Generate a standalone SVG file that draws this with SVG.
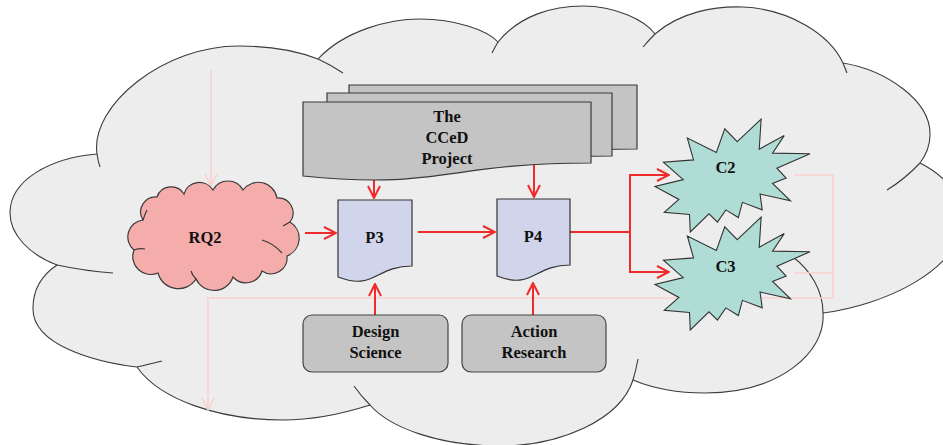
<svg xmlns="http://www.w3.org/2000/svg" xmlns:xlink="http://www.w3.org/1999/xlink" width="943" height="445" viewBox="0 0 943 445">
  <style>
    .lbl { font-family: "Liberation Serif", "Times New Roman", serif; font-weight: bold; font-size: 16.5px; fill: #111; text-anchor: middle; }
    .edge { stroke: #444; stroke-width: 1.1; }
    .bgcloud { fill: #ecedec; stroke: #3c3c3c; stroke-width: 1.1; }
    .tail { fill: none; stroke: #3c3c3c; stroke-width: 1.1; }
    .rq { fill: #f5adab; stroke: #3a3a3a; stroke-width: 1.2; }
    .rqtail { fill: none; stroke: #3a3a3a; stroke-width: 1.2; }
    .doc { fill: #c3c4c3; stroke: #3a3a3a; stroke-width: 1.2; }
    .page { fill: #d1d5eb; stroke: #333; stroke-width: 1.2; }
    .box { fill: #c3c4c3; stroke: #444; stroke-width: 1.2; }
    .seal { fill: #afddd5; stroke: #333; stroke-width: 1.1; }
    .red { fill: none; stroke: #ef2b2b; stroke-width: 2; }
    .pink { fill: none; stroke: #fbd0d0; stroke-width: 1.6; }
  </style>
  <defs>
    <marker id="arrRed" markerUnits="userSpaceOnUse" markerWidth="14" markerHeight="14" viewBox="0 0 14 14" refX="13" refY="7" orient="auto">
      <path d="M1,1 L13,7 L1,13" fill="none" stroke="#ef2b2b" stroke-width="2"/>
    </marker>
    <marker id="arrPink" markerUnits="userSpaceOnUse" markerWidth="14" markerHeight="14" viewBox="0 0 14 14" refX="13" refY="7" orient="auto">
      <path d="M1,1 L13,7 L1,13" fill="none" stroke="#fbd0d0" stroke-width="1.6"/>
    </marker>
    <!-- explosion outline, 155 x 113 -->
    <path id="seal" d="M82.25,22.72 L106.13,0 L104.23,30.22 L129.22,16.59 L117.54,34.17 L155,34.76 L121.88,49.19 L131.1,59.06 L117.54,64.4 L135.46,81.78 L105.05,75.07 L107.22,90.87 L87.4,83.36 L83.33,98.57 L70.84,90.87 L62.43,103.12 L54.01,94.82 L35.28,113 L34.48,95.42 L9.22,93.25 L23.9,80.41 L0,67.37 L28.24,60.64 L8.41,43.26 L38.55,40.89 L32.3,18.96 L61.35,33.39 L69.76,9.87 Z"/>
  </defs>

  <rect width="943" height="445" fill="#ffffff"/>

  <!-- large background cloud -->
  <g id="background-cloud">
    <path class="bgcloud" d="M97,154 C90,105 165,45 240,46 C272,46 300,52 318,59 C345,30 390,19 420,19 C455,19 487,30 498,42 C520,15 553,6 583,6 C615,6 645,20 655,34 C680,12 715,6 743,7 C790,9 830,35 843,63 C885,70 931,100 930,135 C930,146 926,155 920,163 C950,178 962,200 960,225 C958,270 885,305 823,313 C826,352 780,393 705,393 C678,393 652,388 633,380 C620,420 560,446 500,446 C440,446 390,428 370,405 C345,413 315,420 283,420 C220,420 160,400 137,367 C95,362 32,345 33,308 C33,290 42,275 57,265 C30,255 10,235 10,213 C10,180 50,158 97,154 Z"/>
    <path class="tail" d="M97,154 Q98,161 100,167"/>
    <path class="tail" d="M318,59 Q331,65 343,73"/>
    <path class="tail" d="M498,42 Q495,47 492,53"/>
    <path class="tail" d="M655,34 Q649,40 643,47"/>
    <path class="tail" d="M843,63 Q845,68 847,73"/>
    <path class="tail" d="M920,163 Q905,179 887,190"/>
    <path class="tail" d="M823,313 C823,290 810,270 793,257"/>
    <path class="tail" d="M633,380 Q636,370 638,359"/>
    <path class="tail" d="M370,405 Q361,396 354,386"/>
    <path class="tail" d="M137,367 Q150,364 162,361"/>
    <path class="tail" d="M57,265 Q85,271 113,273"/>
  </g>

  <!-- connectors -->
  <g id="connectors">
    <path class="pink" d="M211,70 V186" marker-end="url(#arrPink)"/>
    <path class="pink" d="M794,175 H833 V298 H208 V410" marker-end="url(#arrPink)"/>
    <path class="pink" d="M794,273 H833"/>
    <path class="red" d="M305,233 H336" marker-end="url(#arrRed)"/>
    <path class="red" d="M418,232 H495" marker-end="url(#arrRed)"/>
    <path class="red" d="M374,177 V198" marker-end="url(#arrRed)"/>
    <path class="red" d="M534,164 V197" marker-end="url(#arrRed)"/>
    <path class="red" d="M375,315 V284" marker-end="url(#arrRed)"/>
    <path class="red" d="M533,315 V283" marker-end="url(#arrRed)"/>
    <path class="red" d="M570,232 H630 V175 H669" marker-end="url(#arrRed)"/>
    <path class="red" d="M630,232 V272 H669" marker-end="url(#arrRed)"/>
  </g>

  <!-- research question cloud -->
  <g id="rq2">
    <path class="rq" d="M143,220 A15,15 0 0 1 157,197 A15,15 0 0 1 184,194 A16,16 0 0 1 213,190 A17,17 0 0 1 243,190 A19,19 0 0 1 277,198 A15,15 0 0 1 290,222 A19,19 0 0 1 287,256 A16,16 0 0 1 262,271 A17,17 0 0 1 233,277 A20,20 0 0 1 196,279 A21,21 0 0 1 158,273 A18,18 0 0 1 134,250 A17,17 0 0 1 143,220 Z"/>
    <path class="rqtail" d="M134,250 Q140,248 145,249"/>
    <path class="rqtail" d="M196,279 Q192,275 191,271"/>
    <path class="rqtail" d="M282,253 Q273,243 262,240"/>
    <path class="rqtail" d="M290,222 L283,226"/>
    <path class="rqtail" d="M143,220 Q145,214 147,210"/>
    <text class="lbl" x="205" y="243">RQ2</text>
  </g>

  <!-- stacked project documents -->
  <g id="cced-project">
    <path class="doc" d="M349,85 H637 V149 C493,149 486,174 349,160 Z"/>
    <path class="doc" d="M327,93 H612 V156 C470,156 463,181 327,167 Z"/>
    <path class="doc" d="M303,102 H591 V163 C447,163 440,190 303,176 Z"/>
    <text class="lbl" x="447" y="122">The</text>
    <text class="lbl" x="447" y="143">CCeD</text>
    <text class="lbl" x="447" y="164">Project</text>
  </g>

  <g id="p3">
    <path class="page" d="M338,200 H412 V266 C375,266 375,291 338,277 Z"/>
    <text class="lbl" x="374.5" y="243">P3</text>
  </g>

  <g id="p4">
    <path class="page" d="M497,199 H570 V265 C533.5,265 533.5,290 497,276 Z"/>
    <text class="lbl" x="533" y="242">P4</text>
  </g>

  <g id="design-science">
    <rect class="box" x="303" y="315" width="145" height="57" rx="9"/>
    <text class="lbl" x="375.5" y="337">Design</text>
    <text class="lbl" x="375.5" y="358">Science</text>
  </g>

  <g id="action-research">
    <rect class="box" x="462" y="315" width="144" height="57" rx="9"/>
    <text class="lbl" x="534" y="337">Action</text>
    <text class="lbl" x="534" y="358">Research</text>
  </g>

  <g id="c2">
    <use xlink:href="#seal" href="#seal" class="seal" transform="translate(655,119)"/>
    <text class="lbl" x="725.5" y="173">C2</text>
  </g>

  <g id="c3">
    <use xlink:href="#seal" href="#seal" class="seal" transform="translate(655,217)"/>
    <text class="lbl" x="725.5" y="271.5">C3</text>
  </g>
</svg>
